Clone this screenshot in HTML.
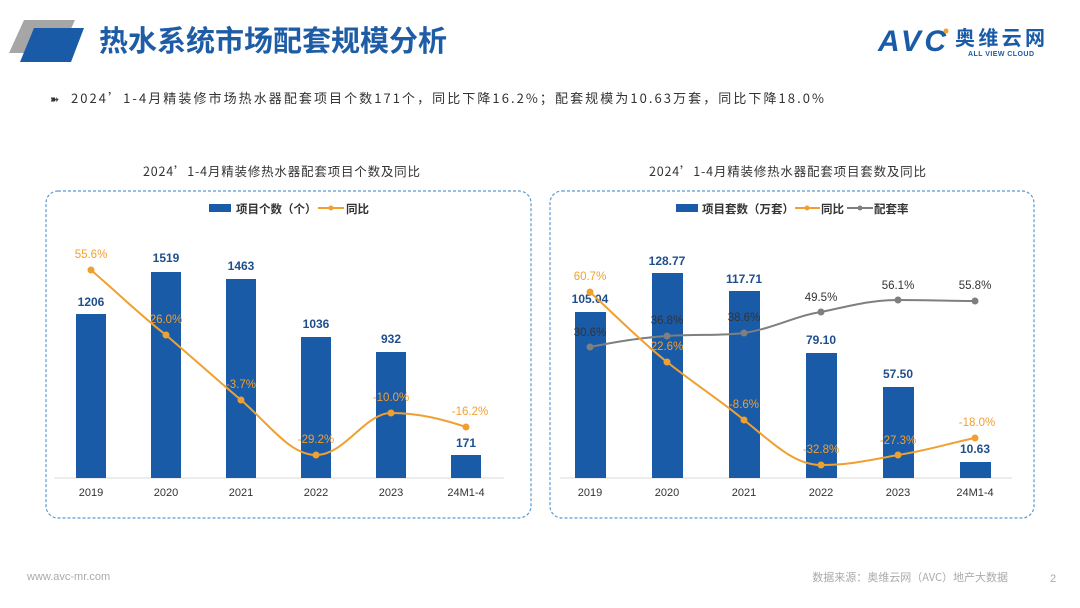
<!DOCTYPE html>
<html><head><meta charset="utf-8"><style>
html,body{margin:0;padding:0;background:#fff;}
svg{display:block;font-family:"Liberation Sans","Noto Sans CJK SC",sans-serif;}
</style></head><body>
<svg width="1080" height="608" viewBox="0 0 1080 608" xmlns="http://www.w3.org/2000/svg">
<polygon points="24,20 75,20 60,53 9,53" fill="#a6a6a6"/>
<polygon points="34,28 84,28 71,62 20,62" fill="#1a5ba8"/>
<text x="99" y="51" font-size="29" font-weight="bold" fill="#1f5ca6" font-family="'Noto Sans CJK SC',sans-serif">热水系统市场配套规模分析</text>
<text x="878" y="51" font-size="30" font-weight="bold" fill="#1a5ba8" font-style="italic" textLength="68">AVC</text>
<circle cx="946" cy="31" r="2.5" fill="#f0a030"/>
<text x="955" y="45" font-size="20" font-weight="bold" fill="#1a5ba8" font-family="'Noto Sans CJK SC',sans-serif" textLength="90">奥维云网</text>
<text x="968" y="56" font-size="7" font-weight="bold" fill="#1a5ba8" textLength="66">ALL VIEW CLOUD</text>
<text x="50" y="103" font-size="11" fill="#333">➽</text>
<text x="71" y="103" font-size="13" fill="#333" font-family="'Noto Sans CJK SC',sans-serif" textLength="753" lengthAdjust="spacing">2024’1-4月精装修市场热水器配套项目个数171个，同比下降16.2%；配套规模为10.63万套，同比下降18.0%</text>
<text x="143" y="176" font-size="12.5" fill="#333" font-family="'Noto Sans CJK SC',sans-serif" textLength="277" lengthAdjust="spacing">2024’1-4月精装修热水器配套项目个数及同比</text>
<text x="649" y="176" font-size="12.5" fill="#333" font-family="'Noto Sans CJK SC',sans-serif" textLength="277" lengthAdjust="spacing">2024’1-4月精装修热水器配套项目套数及同比</text>
<rect x="46" y="191" width="485" height="327" rx="12" fill="none" stroke="#5b9bd5" stroke-width="1.2" stroke-dasharray="3,2"/>
<rect x="550" y="191" width="484" height="327" rx="12" fill="none" stroke="#5b9bd5" stroke-width="1.2" stroke-dasharray="3,2"/>

<g font-family="'Noto Sans CJK SC',sans-serif">
<rect x="209" y="204" width="22" height="8" fill="#1a5ba8"/>
<text x="236" y="213" font-size="11.5" font-weight="bold" fill="#333">项目个数（个）</text>
<line x1="318" y1="208" x2="344" y2="208" stroke="#f0a030" stroke-width="2"/><circle cx="331" cy="208" r="2.5" fill="#f0a030"/>
<text x="346" y="213" font-size="11.5" font-weight="bold" fill="#333">同比</text>
</g>
<line x1="54" y1="478" x2="504" y2="478" stroke="#d9d9d9"/>
<g fill="#1a5ba8">
<rect x="76" y="314" width="30" height="164"/>
<rect x="151" y="272" width="30" height="206"/>
<rect x="226" y="279" width="30" height="199"/>
<rect x="301" y="337" width="30" height="141"/>
<rect x="376" y="352" width="30" height="126"/>
<rect x="451" y="455" width="30" height="23"/>
</g>
<g font-size="12" font-weight="bold" fill="#1f4e8c" text-anchor="middle">
<text x="91" y="306">1206</text><text x="166" y="262">1519</text><text x="241" y="270">1463</text>
<text x="316" y="328">1036</text><text x="391" y="343">932</text><text x="466" y="447">171</text>
</g>
<path d="M91,270 C120,295 140,315 166,335 C195,360 215,378 241,400 C270,425 290,455 316,455 C345,455 365,413 391,413 C420,413 445,420 466,427" fill="none" stroke="#f0a030" stroke-width="2"/>
<g fill="#f0a030"><circle cx="91" cy="270" r="3.5"/><circle cx="166" cy="335" r="3.5"/><circle cx="241" cy="400" r="3.5"/><circle cx="316" cy="455" r="3.5"/><circle cx="391" cy="413" r="3.5"/><circle cx="466" cy="427" r="3.5"/></g>
<g font-size="11.5" fill="#f0a030" text-anchor="middle">
<text x="91" y="258">55.6%</text><text x="166" y="323">26.0%</text><text x="241" y="388">-3.7%</text>
<text x="316" y="443">-29.2%</text><text x="391" y="401">-10.0%</text><text x="470" y="415">-16.2%</text>
</g>
<g font-size="11" fill="#333" text-anchor="middle">
<text x="91" y="496">2019</text><text x="166" y="496">2020</text><text x="241" y="496">2021</text>
<text x="316" y="496">2022</text><text x="391" y="496">2023</text><text x="466" y="496">24M1-4</text>
</g>

<g font-family="'Noto Sans CJK SC',sans-serif">
<rect x="676" y="204" width="22" height="8" fill="#1a5ba8"/>
<text x="702" y="213" font-size="11.5" font-weight="bold" fill="#333">项目套数（万套）</text>
<line x1="795" y1="208" x2="820" y2="208" stroke="#f0a030" stroke-width="2"/><circle cx="807" cy="208" r="2.5" fill="#f0a030"/>
<text x="821" y="213" font-size="11.5" font-weight="bold" fill="#333">同比</text>
<line x1="847" y1="208" x2="873" y2="208" stroke="#7f7f7f" stroke-width="2"/><circle cx="860" cy="208" r="2.5" fill="#7f7f7f"/>
<text x="874" y="213" font-size="11.5" font-weight="bold" fill="#333">配套率</text>
</g>
<line x1="560" y1="478" x2="1012" y2="478" stroke="#d9d9d9"/>
<g fill="#1a5ba8">
<rect x="575" y="312" width="31" height="166"/>
<rect x="652" y="273" width="31" height="205"/>
<rect x="729" y="291" width="31" height="187"/>
<rect x="806" y="353" width="31" height="125"/>
<rect x="883" y="387" width="31" height="91"/>
<rect x="960" y="462" width="31" height="16"/>
</g>
<g font-size="12" font-weight="bold" fill="#1f4e8c" text-anchor="middle">
<text x="590" y="303">105.04</text><text x="667" y="265">128.77</text><text x="744" y="283">117.71</text>
<text x="821" y="344">79.10</text><text x="898" y="378">57.50</text><text x="975" y="453">10.63</text>
</g>
<path d="M590,347 C620,341 640,338 667,336 C700,334 720,336 744,333 C775,328 795,316 821,312 C850,306 870,300 898,300 C930,300 955,301 975,301" fill="none" stroke="#7f7f7f" stroke-width="2"/>
<g fill="#7f7f7f"><circle cx="590" cy="347" r="3.5"/><circle cx="667" cy="336" r="3.5"/><circle cx="744" cy="333" r="3.5"/><circle cx="821" cy="312" r="3.5"/><circle cx="898" cy="300" r="3.5"/><circle cx="975" cy="301" r="3.5"/></g>
<path d="M590,292 C620,320 640,340 667,362 C700,388 720,400 744,420 C775,445 795,465 821,465 C850,465 870,460 898,455 C930,450 950,443 975,438" fill="none" stroke="#f0a030" stroke-width="2"/>
<g fill="#f0a030"><circle cx="590" cy="292" r="3.5"/><circle cx="667" cy="362" r="3.5"/><circle cx="744" cy="420" r="3.5"/><circle cx="821" cy="465" r="3.5"/><circle cx="898" cy="455" r="3.5"/><circle cx="975" cy="438" r="3.5"/></g>
<g font-size="11.5" fill="#333" text-anchor="middle">
<text x="590" y="336">30.6%</text><text x="667" y="324">36.8%</text><text x="744" y="321">38.6%</text>
<text x="821" y="301">49.5%</text><text x="898" y="289">56.1%</text><text x="975" y="289">55.8%</text>
</g>
<g font-size="11.5" fill="#f0a030" text-anchor="middle">
<text x="590" y="280">60.7%</text><text x="667" y="350">22.6%</text><text x="744" y="408">-8.6%</text>
<text x="821" y="453">-32.8%</text><text x="898" y="444">-27.3%</text><text x="977" y="426">-18.0%</text>
</g>
<g font-size="11" fill="#333" text-anchor="middle">
<text x="590" y="496">2019</text><text x="667" y="496">2020</text><text x="744" y="496">2021</text>
<text x="821" y="496">2022</text><text x="898" y="496">2023</text><text x="975" y="496">24M1-4</text>
</g>

<text x="27" y="580" font-size="11" fill="#aaa">www.avc-mr.com</text>
<text x="1008" y="581" font-size="11" fill="#aaa" text-anchor="end" font-family="'Noto Sans CJK SC',sans-serif">数据来源：奥维云网（AVC）地产大数据</text>
<text x="1050" y="582" font-size="11" fill="#aaa">2</text>
</svg>
</body></html>
